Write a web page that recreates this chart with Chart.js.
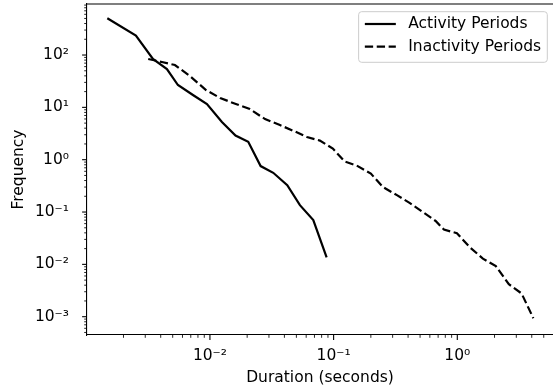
<!DOCTYPE html>
<html>
<head>
<meta charset="utf-8">
<script src="https://cdn.jsdelivr.net/npm/chart.js@4/dist/chart.umd.min.js"></script>
<style>
  html, body { margin: 0; padding: 0; background: #fff; overflow: hidden; }
  canvas { display: block; }
</style>
</head>
<body>
<canvas id="chart" width="553" height="390"></canvas>
<script>
// durations (seconds) and frequencies
const activityDur = [0.00148, 0.00252, 0.00346, 0.00449, 0.00551, 0.00729, 0.00946, 0.0125, 0.0161, 0.0204, 0.0257, 0.0325, 0.0422, 0.0534, 0.0685, 0.0878];
const activityFreq = [504, 236, 84, 54, 26.7, 17.2, 11.6, 5.24, 2.89, 2.2, 0.755, 0.562, 0.327, 0.135, 0.07, 0.0136];

const inactivityDur = [0.00317, 0.00409, 0.00521, 0.00689, 0.00929, 0.0121, 0.0162, 0.021, 0.0279, 0.0368, 0.0478, 0.0608, 0.0774, 0.0986, 0.123, 0.154, 0.2, 0.251, 0.325, 0.414, 0.527, 0.671, 0.78, 0.993, 1.26, 1.61, 2.05, 2.61, 3.31, 4.12];
const inactivityFreq = [83.9, 73.5, 64.4, 39.7, 21.4, 15.1, 11.6, 9.27, 5.97, 4.59, 3.52, 2.71, 2.32, 1.63, 0.921, 0.771, 0.542, 0.299, 0.21, 0.148, 0.0995, 0.067, 0.0461, 0.0395, 0.0213, 0.0129, 0.00924, 0.00418, 0.00278, 0.000935];

const seriesLabels = ['Activity Periods', 'Inactivity Periods'];

const FONT = 'DejaVu Sans';
const FS = 15.5;

const sup = {'-': '\u207B', '0': '\u2070', '1': '\u00B9', '2': '\u00B2', '3': '\u00B3', '4': '\u2074', '5': '\u2075', '6': '\u2076', '7': '\u2077', '8': '\u2078', '9': '\u2079'};

function tickKind(v) {
    const e = Math.floor(Math.log10(v) + 1e-9);
    const s = v / Math.pow(10, e);
    if (Math.abs(s - Math.round(s)) > 1e-6) return null;
    return Math.round(s) === 1 || Math.round(s) === 10 ? 'major' : 'minor';
}

function powLabel(v) {
    if (tickKind(v) !== 'major') return '';
    const e = Math.round(Math.log10(v));
    return '10' + String(e).split('').map(c => sup[c]).join('');
}

function toPoints(xs, ys) {
    return xs.map((x, i) => ({x: x, y: ys[i]}));
}

// fixed axis boxes so the plot area sits where the reference has it
function fixBox(size) {
    return (scale) => {
        if (scale.isHorizontal()) scale.height = size;
        else scale.width = size;
        scale.paddingTop = 0;
        scale.paddingBottom = 0;
        scale.paddingLeft = 0;
        scale.paddingRight = 0;
    };
}

// matplotlib style outward ticks, long for decades and short for the rest
const tickMarks = {
    id: 'tickMarks',
    afterDraw(chart) {
        const ctx = chart.ctx;
        const xs = chart.scales.x, ys = chart.scales.y;
        ctx.save();
        ctx.strokeStyle = '#000';
        xs.ticks.forEach(t => {
            const kind = tickKind(t.value);
            if (!kind) return;
            const px = xs.getPixelForValue(t.value);
            if (px < xs.left - 0.5 || px > xs.right + 0.5) return;
            ctx.lineWidth = kind === 'major' ? 1.1 : 0.85;
            ctx.beginPath();
            ctx.moveTo(px, xs.top);
            ctx.lineTo(px, xs.top + (kind === 'major' ? 4.9 : 2.8));
            ctx.stroke();
        });
        ys.ticks.forEach(t => {
            const kind = tickKind(t.value);
            if (!kind) return;
            const py = ys.getPixelForValue(t.value);
            if (py < ys.top - 0.5 || py > ys.bottom + 0.5) return;
            ctx.lineWidth = kind === 'major' ? 1.1 : 0.85;
            ctx.beginPath();
            ctx.moveTo(ys.right, py);
            ctx.lineTo(ys.right - (kind === 'major' ? 4.9 : 2.8), py);
            ctx.stroke();
        });
        // top spine
        const area = chart.chartArea;
        ctx.lineWidth = 1.1;
        ctx.beginPath();
        ctx.moveTo(area.left, area.top);
        ctx.lineTo(area.right, area.top);
        ctx.stroke();
        ctx.restore();
    }
};

// framed legend in the upper right corner
const legendBox = {
    id: 'legendBox',
    afterDatasetsDraw(chart) {
        const ctx = chart.ctx;
        const area = chart.chartArea;
        const sets = chart.data.datasets;
        ctx.save();
        ctx.font = FS + 'px "' + FONT + '"';
        const textW = Math.max(...sets.map(d => ctx.measureText(d.label).width));
        const pad = 0.4 * FS, handle = 2 * FS, gap = 0.8 * FS, rowH = 22.7;
        const w = pad + handle + gap + textW + pad;
        const h = 50.6;
        const right = area.right - 5.7;
        const left = right - w;
        const top = area.top + 7.7;
        ctx.beginPath();
        ctx.roundRect(left, top, w, h, 3);
        ctx.fillStyle = 'rgba(255,255,255,0.8)';
        ctx.fill();
        ctx.strokeStyle = '#cccccc';
        ctx.lineWidth = 1;
        ctx.stroke();
        sets.forEach((d, i) => {
            const cy = top + 12.3 + i * rowH;
            ctx.strokeStyle = d.borderColor;
            ctx.lineWidth = d.borderWidth;
            ctx.setLineDash(d.borderDash || []);
            ctx.beginPath();
            ctx.moveTo(left + pad, cy);
            ctx.lineTo(left + pad + handle, cy);
            ctx.stroke();
            ctx.setLineDash([]);
            ctx.fillStyle = '#000';
            ctx.textBaseline = 'middle';
            ctx.textAlign = 'left';
            ctx.fillText(d.label, left + pad + handle + gap, cy);
        });
        ctx.restore();
    }
};

new Chart(document.getElementById('chart'), {
    type: 'line',
    data: {
        datasets: [{
            label: seriesLabels[0],
            data: toPoints(activityDur, activityFreq),
            borderColor: '#000',
            borderWidth: 2.2,
            pointRadius: 0,
            tension: 0,
            fill: false
        }, {
            label: seriesLabels[1],
            data: toPoints(inactivityDur, inactivityFreq),
            borderColor: '#000',
            borderWidth: 2.2,
            borderDash: [8.3, 3.6],
            pointRadius: 0,
            tension: 0,
            fill: false
        }]
    },
    options: {
        responsive: false,
        animation: false,
        devicePixelRatio: 1,
        layout: {padding: {top: 4, right: 0, left: 0, bottom: 0}},
        scales: {
            x: {
                type: 'logarithmic',
                min: 0.001014,
                max: 5.94,
                border: {display: true, color: '#000', width: 1.1},
                grid: {display: true, drawOnChartArea: false, drawTicks: false},
                ticks: {
                    autoSkip: false,
                    maxRotation: 0,
                    padding: 12,
                    color: '#000',
                    font: {family: FONT, size: FS},
                    callback: (v) => powLabel(v)
                },
                title: {
                    display: true,
                    text: 'Duration (seconds)',
                    color: '#000',
                    font: {family: FONT, size: FS},
                    padding: {top: 0, bottom: 3}
                },
                afterFit: fixBox(55)
            },
            y: {
                type: 'logarithmic',
                min: 0.000447,
                max: 944,
                border: {display: true, color: '#000', width: 1.1},
                grid: {display: true, drawOnChartArea: false, drawTicks: false},
                ticks: {
                    autoSkip: false,
                    padding: 18,
                    color: '#000',
                    font: {family: FONT, size: FS},
                    callback: (v) => powLabel(v)
                },
                title: {
                    display: true,
                    text: 'Frequency',
                    color: '#000',
                    font: {family: FONT, size: FS},
                    padding: {top: 10, bottom: 0}
                },
                afterFit: fixBox(87)
            }
        },
        plugins: {
            legend: {display: false},
            tooltip: {enabled: false}
        }
    },
    plugins: [tickMarks, legendBox]
});
</script>
</body>
</html>
